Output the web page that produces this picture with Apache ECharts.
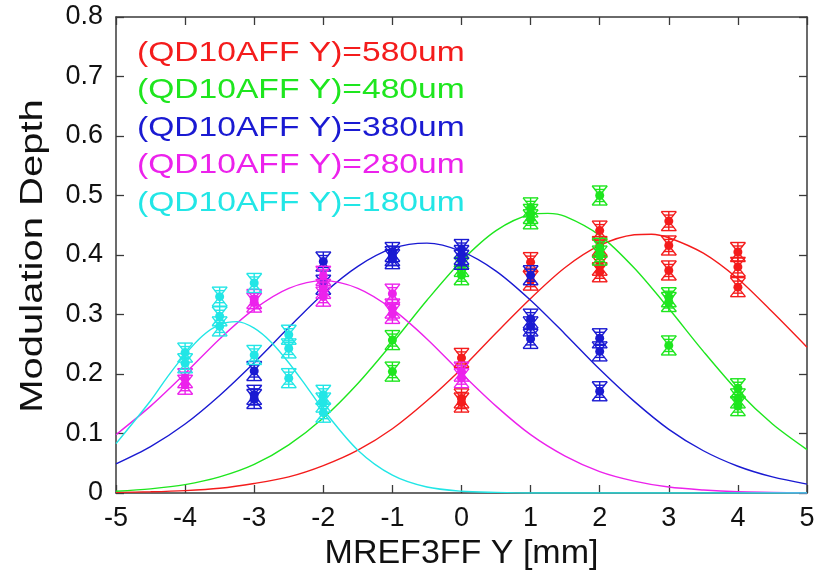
<!DOCTYPE html>
<html>
<head>
<meta charset="utf-8">
<script src="https://cdn.jsdelivr.net/npm/echarts@6/dist/echarts.min.js"></script>
<style>
  html, body { margin: 0; padding: 0; background: #ffffff; }
  #chart { width: 821px; height: 576px; }
</style>
</head>
<body>
<div id="chart"></div>
<script>
// Measured modulation depth at each MREF3FF Y position, one array per QD10AFF setting: [x (mm), depth]
const pts580 = [[0,0.227],[0,0.159],[0,0.152],[1,0.388],[1,0.357],[2,0.441],[2,0.415],[2,0.382],[2,0.371],
                [3,0.457],[3,0.416],[3,0.374],[4,0.405],[4,0.380],[4,0.346]];
const pts480 = [[-1,0.257],[-1,0.204],[0,0.380],[0,0.366],[1,0.480],[1,0.469],[1,0.460],[2,0.500],[2,0.412],
                [2,0.399],[3,0.329],[3,0.321],[3,0.248],[4,0.176],[4,0.159],[4,0.146]];
const pts380 = [[-3,0.205],[-3,0.165],[-3,0.158],[-2,0.389],[-2,0.350],[-1,0.405],[-1,0.398],[-1,0.393],
                [0,0.410],[0,0.400],[0,0.392],[1,0.366],[1,0.293],[1,0.280],[1,0.259],[2,0.260],[2,0.238],[2,0.171]];
const pts280 = [[-4,0.193],[-4,0.182],[-3,0.326],[-3,0.320],[-2,0.365],[-2,0.343],[-2,0.330],[-1,0.335],
                [-1,0.310],[-1,0.301],[0,0.204],[0,0.193]];
const pts180 = [[-4,0.236],[-4,0.218],[-3.5,0.330],[-3.5,0.297],[-3.5,0.280],[-3,0.353],[-3,0.232],
                [-2.5,0.266],[-2.5,0.243],[-2.5,0.193],[-2,0.165],[-2,0.152],[-2,0.135]];
// half-length of the error bars (depth units)
const errHalf = 0.016;

// Gaussian fit curves, sampled along x (mm)
const fit580X = [-5,-4.5,-4,-3.5,-3,-2.5,-2,-1.5,-1,-0.5,0,0.5,1,1.5,2,2.5,2.75,3,3.5,4,4.5,5];
const fit580  = [0.001,0.002,0.004,0.008,0.016,0.027,0.046,0.072,0.108,0.155,0.209,0.269,0.327,0.379,0.416,0.434,0.435,0.429,0.403,0.360,0.304,0.245];
const fit480X = [-5,-4.5,-4,-3.5,-3,-2.5,-2,-1.5,-1,-0.5,0,0.5,1,1.25,1.5,2,2.5,3,3.5,4,4.5,5];
const fit480  = [0.003,0.007,0.014,0.027,0.048,0.081,0.126,0.184,0.252,0.324,0.390,0.441,0.468,0.470,0.465,0.433,0.378,0.310,0.238,0.171,0.116,0.073];
const fit380X = [-5,-4.5,-4,-3.5,-3,-2.5,-2,-1.5,-1,-0.5,0,0.5,1,1.5,2,2.5,3,3.5,4,4.5,5];
const fit380  = [0.049,0.078,0.116,0.164,0.219,0.278,0.335,0.381,0.411,0.420,0.406,0.373,0.324,0.267,0.208,0.154,0.107,0.071,0.045,0.027,0.015];
const fit280X = [-5,-4.5,-4,-3.5,-3,-2.5,-2,-1.5,-1,-0.5,0,0.5,1,1.5,2,2.5,3,3.5,4,4.5,5];
const fit280  = [0.098,0.146,0.201,0.259,0.309,0.344,0.357,0.344,0.309,0.259,0.201,0.146,0.098,0.062,0.036,0.020,0.010,0.005,0.002,0.001,0.000];
const fit180X = [-5,-4.5,-4.25,-4,-3.75,-3.5,-3.25,-3,-2.75,-2.5,-2.25,-2,-1.5,-1,-0.5,0,0.5,1,1.5,2,2.5,3,3.5,4,4.5,5];
const fit180  = [0.083,0.155,0.196,0.233,0.264,0.283,0.288,0.277,0.253,0.219,0.180,0.140,0.072,0.030,0.010,0.003,0.001,0,0,0,0,0,0,0,0,0];

const labels = ['(QD10AFF Y)=580um','(QD10AFF Y)=480um','(QD10AFF Y)=380um','(QD10AFF Y)=280um','(QD10AFF Y)=180um'];
const colors = ['#f41c1c','#1ee61e','#1a1ad2','#ec22ec','#22e6e6'];
const pointSets = [pts580, pts480, pts380, pts280, pts180];
const fitSets = [[fit580X, fit580], [fit480X, fit480], [fit380X, fit380], [fit280X, fit280], [fit180X, fit180]];

const FONT = 'Liberation Sans';

function glyphRenderer(color) {
  return function (params, api) {
    const x = api.value(0), y = api.value(1), e = api.value(2);
    const c = api.coord([x, y]);
    const t = api.coord([x, y + e]);
    const b = api.coord([x, y - e]);
    const w = 7.5, w2 = 5;
    const st = { stroke: color, lineWidth: 1.4, fill: null };
    const ln = (x1, y1, x2, y2) => ({ type: 'line', shape: { x1, y1, x2, y2 }, style: st });
    return {
      type: 'group',
      children: [
        ln(c[0], t[1], c[0], b[1]),
        ln(c[0] - w, t[1], c[0] + w, t[1]),
        ln(c[0] - w, b[1], c[0] + w, b[1]),
        ln(c[0] - w2, t[1] + 3.5, c[0] + w2, t[1] + 3.5),
        ln(c[0] - w2, b[1] - 3.5, c[0] + w2, b[1] - 3.5),
        ln(c[0] - w, t[1], c[0] + w, b[1]),
        ln(c[0] + w, t[1], c[0] - w, b[1]),
        { type: 'circle', shape: { cx: c[0], cy: c[1], r: 4.5 }, style: { fill: color, stroke: null } }
      ]
    };
  };
}

const series = [];
pointSets.forEach((pts, i) => {
  series.push({
    type: 'custom',
    name: labels[i],
    xAxisIndex: 0, yAxisIndex: 0,
    renderItem: glyphRenderer(colors[i]),
    data: pts.map(p => [p[0], p[1], errHalf]),
    z: 3,
    silent: true
  });
});
fitSets.forEach(([xs, ys], i) => {
  series.push({
    type: 'line',
    name: labels[i] + ' fit',
    xAxisIndex: 0, yAxisIndex: 0,
    data: xs.map((x, k) => [x, ys[k]]),
    smooth: 0.3,
    showSymbol: false,
    lineStyle: { color: colors[i], width: 1.4 },
    z: 2,
    silent: true
  });
});

const axisLine = { show: true, onZero: false, lineStyle: { color: '#3a3a3a', width: 1.5 } };
const tick = { show: true, inside: true, length: 8, lineStyle: { color: '#3a3a3a', width: 1.3 } };
const labelStyle = { color: '#111', fontFamily: FONT, fontSize: 27 };

const option = {
  backgroundColor: '#ffffff',
  animation: false,
  grid: { left: 116, right: 14, top: 17, bottom: 81, containLabel: false },
  xAxis: [
    {
      type: 'value', min: -5, max: 5, interval: 1, position: 'bottom',
      axisLine, axisTick: tick, splitLine: { show: false },
      axisLabel: Object.assign({ margin: 12 }, labelStyle),
      name: 'MREF3FF Y [mm]', nameLocation: 'middle', nameGap: 44,
      nameTextStyle: { color: '#111', fontFamily: FONT, fontSize: 34 }
    },
    {
      type: 'value', min: -5, max: 5, interval: 1, position: 'top',
      axisLine, axisTick: tick, splitLine: { show: false }, axisLabel: { show: false }
    }
  ],
  yAxis: [
    {
      type: 'value', min: 0, max: 0.8, interval: 0.1, position: 'left',
      axisLine, axisTick: tick, splitLine: { show: false },
      axisLabel: Object.assign({ margin: 13 }, labelStyle)
    },
    {
      type: 'value', min: 0, max: 0.8, interval: 0.1, position: 'right',
      axisLine, axisTick: tick, splitLine: { show: false }, axisLabel: { show: false }
    }
  ],
  graphic: [
    // y-axis title, stretched along its reading direction
    {
      type: 'text',
      x: 33, y: 256,
      rotation: Math.PI / 2,
      scaleX: 1.25,
      style: { text: 'Modulation Depth', fill: '#111', font: '32px "' + FONT + '"', align: 'center', verticalAlign: 'middle' },
      z: 10
    }
  ].concat(labels.map((txt, i) => ({
    type: 'text',
    x: 137,
    y: 53 + i * 37.5,
    scaleX: 1.2,
    style: { text: txt, fill: colors[i], font: '28px "' + FONT + '"', align: 'left', verticalAlign: 'middle' },
    z: 10
  }))),
  series
};

const chart = echarts.init(document.getElementById('chart'), null, { renderer: 'canvas' });
chart.setOption(option);
</script>
</body>
</html>
